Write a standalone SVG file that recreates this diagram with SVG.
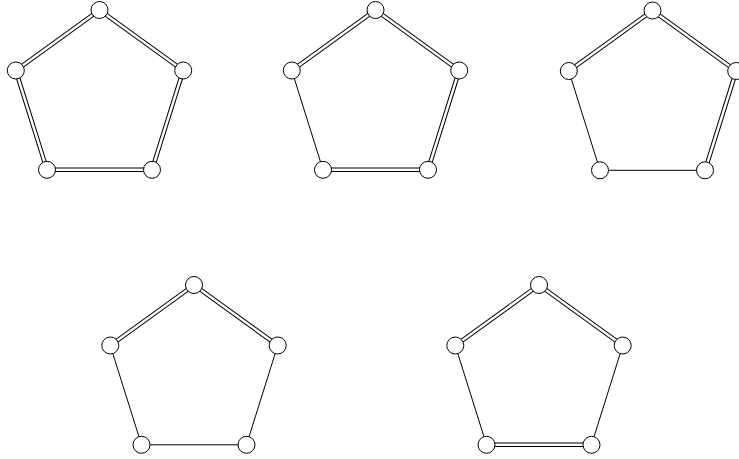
<svg xmlns="http://www.w3.org/2000/svg" width="739" height="459" viewBox="0 0 739 459">
<style>
.bg{fill:#fff}
.n{fill:#fff;stroke:#000;stroke-width:1}
.s{stroke:#000;stroke-width:1;fill:none}
.do{stroke:#000;stroke-width:4.5;fill:none}
.di{stroke:#fff;stroke-width:2.5;fill:none}
</style>
<rect class="bg" width="739" height="459"/>
<g id="connectors">
<!-- P1 -->
<g transform="translate(99.5,98)">
<path class="do" d="M0,-88 L-83.7,-27.5 M0,-88 L83.7,-27.5 M83.7,-27.5 L52.5,71.8 M-52.5,71.8 L52.5,71.8 M-83.7,-27.5 L-52.5,71.8"/>
<path class="di" d="M0,-88 L-83.7,-27.5 M0,-88 L83.7,-27.5 M83.7,-27.5 L52.5,71.8 M-52.5,71.8 L52.5,71.8 M-83.7,-27.5 L-52.5,71.8"/>
</g>
<!-- P2 -->
<g transform="translate(375.5,98)">
<path class="do" d="M0,-88 L-83.7,-27.5 M0,-88 L83.7,-27.5 M83.7,-27.5 L52.5,71.8 M-52.5,71.8 L52.5,71.8"/>
<path class="di" d="M0,-88 L-83.7,-27.5 M0,-88 L83.7,-27.5 M83.7,-27.5 L52.5,71.8 M-52.5,71.8 L52.5,71.8"/>
<path class="s" d="M-83.7,-27.5 L-52.5,71.8"/>
</g>
<!-- P3 -->
<g transform="translate(652.5,98.5)">
<path class="do" d="M0,-88 L-83.7,-27.5 M0,-88 L83.7,-27.5 M83.7,-27.5 L52.5,71.8"/>
<path class="di" d="M0,-88 L-83.7,-27.5 M0,-88 L83.7,-27.5 M83.7,-27.5 L52.5,71.8"/>
<path class="s" d="M-83.7,-27.5 L-52.5,71.8 M-52.5,71.8 L52.5,71.8"/>
</g>
<!-- P4 -->
<g transform="translate(194,373)">
<path class="do" d="M0,-88 L-83.7,-27.5 M0,-88 L83.7,-27.5"/>
<path class="di" d="M0,-88 L-83.7,-27.5 M0,-88 L83.7,-27.5"/>
<path class="s" d="M-83.7,-27.5 L-52.5,71.8 M-52.5,71.8 L52.5,71.8 M83.7,-27.5 L52.5,71.8"/>
</g>
<!-- P5 -->
<g transform="translate(539,373)">
<path class="do" d="M0,-88 L-83.7,-27.5 M0,-88 L83.7,-27.5 M-52.5,71.8 L52.5,71.8"/>
<path class="di" d="M0,-88 L-83.7,-27.5 M0,-88 L83.7,-27.5 M-52.5,71.8 L52.5,71.8"/>
<path class="s" d="M-83.7,-27.5 L-52.5,71.8 M83.7,-27.5 L52.5,71.8"/>
</g>
</g>
<g id="p1" transform="translate(99.5,98)">
<g id="p1-t"><circle class="n" cx="0" cy="-88" r="8.5"/></g>
<g id="p1-l"><circle class="n" cx="-83.7" cy="-27.5" r="8.5"/></g>
<g id="p1-r"><circle class="n" cx="83.7" cy="-27.5" r="8.5"/></g>
<g id="p1-bl"><circle class="n" cx="-52.5" cy="71.8" r="8.5"/></g>
<g id="p1-br"><circle class="n" cx="52.5" cy="71.8" r="8.5"/></g>
</g>
<g id="p2" transform="translate(375.5,98)">
<g id="p2-t"><circle class="n" cx="0" cy="-88" r="8.5"/></g>
<g id="p2-l"><circle class="n" cx="-83.7" cy="-27.5" r="8.5"/></g>
<g id="p2-r"><circle class="n" cx="83.7" cy="-27.5" r="8.5"/></g>
<g id="p2-bl"><circle class="n" cx="-52.5" cy="71.8" r="8.5"/></g>
<g id="p2-br"><circle class="n" cx="52.5" cy="71.8" r="8.5"/></g>
</g>
<g id="p3" transform="translate(652.5,98.5)">
<g id="p3-t"><circle class="n" cx="0" cy="-88" r="8.5"/></g>
<g id="p3-l"><circle class="n" cx="-83.7" cy="-27.5" r="8.5"/></g>
<g id="p3-r"><circle class="n" cx="83.7" cy="-27.5" r="8.5"/></g>
<g id="p3-bl"><circle class="n" cx="-52.5" cy="71.8" r="8.5"/></g>
<g id="p3-br"><circle class="n" cx="52.5" cy="71.8" r="8.5"/></g>
</g>
<g id="p4" transform="translate(194,373)">
<g id="p4-t"><circle class="n" cx="0" cy="-88" r="8.5"/></g>
<g id="p4-l"><circle class="n" cx="-83.7" cy="-27.5" r="8.5"/></g>
<g id="p4-r"><circle class="n" cx="83.7" cy="-27.5" r="8.5"/></g>
<g id="p4-bl"><circle class="n" cx="-52.5" cy="71.8" r="8.5"/></g>
<g id="p4-br"><circle class="n" cx="52.5" cy="71.8" r="8.5"/></g>
</g>
<g id="p5" transform="translate(539,373)">
<g id="p5-t"><circle class="n" cx="0" cy="-88" r="8.5"/></g>
<g id="p5-l"><circle class="n" cx="-83.7" cy="-27.5" r="8.5"/></g>
<g id="p5-r"><circle class="n" cx="83.7" cy="-27.5" r="8.5"/></g>
<g id="p5-bl"><circle class="n" cx="-52.5" cy="71.8" r="8.5"/></g>
<g id="p5-br"><circle class="n" cx="52.5" cy="71.8" r="8.5"/></g>
</g>
</svg>
